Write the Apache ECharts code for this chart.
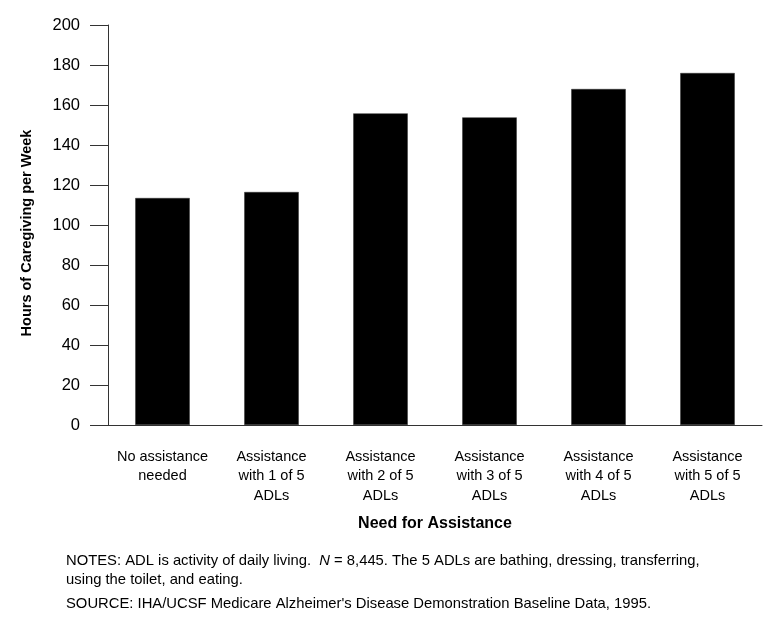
<!DOCTYPE html>
<html><head><meta charset="utf-8">
<script src="https://cdn.jsdelivr.net/npm/echarts@6/dist/echarts.min.js"></script>
<style>html,body{margin:0;padding:0;background:#fff}#c{width:771px;height:620px}</style>
</head><body><div id="c"></div>
<script>
const categories = ["No assistance\nneeded","Assistance\nwith 1 of 5\nADLs","Assistance\nwith 2 of 5\nADLs","Assistance\nwith 3 of 5\nADLs","Assistance\nwith 4 of 5\nADLs","Assistance\nwith 5 of 5\nADLs"];
const hours = [113.5, 116.5, 155.8, 153.8, 168, 176];
const yTicks = [0, 20, 40, 60, 80, 100, 120, 140, 160, 180, 200];
const notes1 = ["NOTES: ADL is activity of daily living.  ", "N", " = 8,445. The 5 ADLs are bathing, dressing, transferring,"];
const notes2 = "using the toilet, and eating.";
const source = "SOURCE: IHA/UCSF Medicare Alzheimer's Disease Demonstration Baseline Data, 1995.";
const F = "'Liberation Sans', Arial, Helvetica, sans-serif";
const chart = echarts.init(document.getElementById('c'), null, {renderer:'canvas'});
chart.setOption({
  animation:false,
  grid:{left:108, right:9, top:25, bottom:195, containLabel:false},
  xAxis:{type:'category', data:categories,
    axisLine:{lineStyle:{color:'#333', width:1}}, axisTick:{show:false},
    axisLabel:{color:'#000', fontFamily:F, fontSize:14.5, lineHeight:19.5, margin:22, interval:0},
    name:'Need for Assistance', nameLocation:'middle', nameGap:91,
    nameTextStyle:{color:'#000', fontFamily:F, fontSize:16, fontWeight:'bold'}},
  yAxis:{type:'value', min:yTicks[0], max:yTicks[yTicks.length-1], interval:20,
    axisLine:{show:true, lineStyle:{color:'#333', width:1}},
    axisTick:{show:true, inside:false, length:18, lineStyle:{color:'#333'}},
    splitLine:{show:false},
    axisLabel:{color:'#000', fontFamily:F, fontSize:16.5, margin:28},
    name:'Hours of Caregiving per Week', nameLocation:'middle', nameGap:74,
    nameTextStyle:{color:'#000', fontFamily:F, fontSize:14.5, fontWeight:'bold', padding:[0,16,0,0]}},
  series:[{type:'bar', data:hours, barWidth:'50%', itemStyle:{color:'#000', borderColor:'#333', borderWidth:0.5}}],
  graphic:[
    {type:'text', left:66, top:553, style:{rich:{a:{fontFamily:F,fontSize:14.8,fill:'#000'},i:{fontFamily:F,fontSize:14.8,fontStyle:'italic',fill:'#000'}}, text:'{a|'+notes1[0]+'}{i|'+notes1[1]+'}{a|'+notes1[2]+'}'}},
    {type:'text', left:66, top:572, style:{text:notes2, fontFamily:F, fontSize:14.8, fill:'#000'}},
    {type:'text', left:66, top:596, style:{text:source, fontFamily:F, fontSize:14.8, fill:'#000'}}
  ]
});
</script></body></html>
